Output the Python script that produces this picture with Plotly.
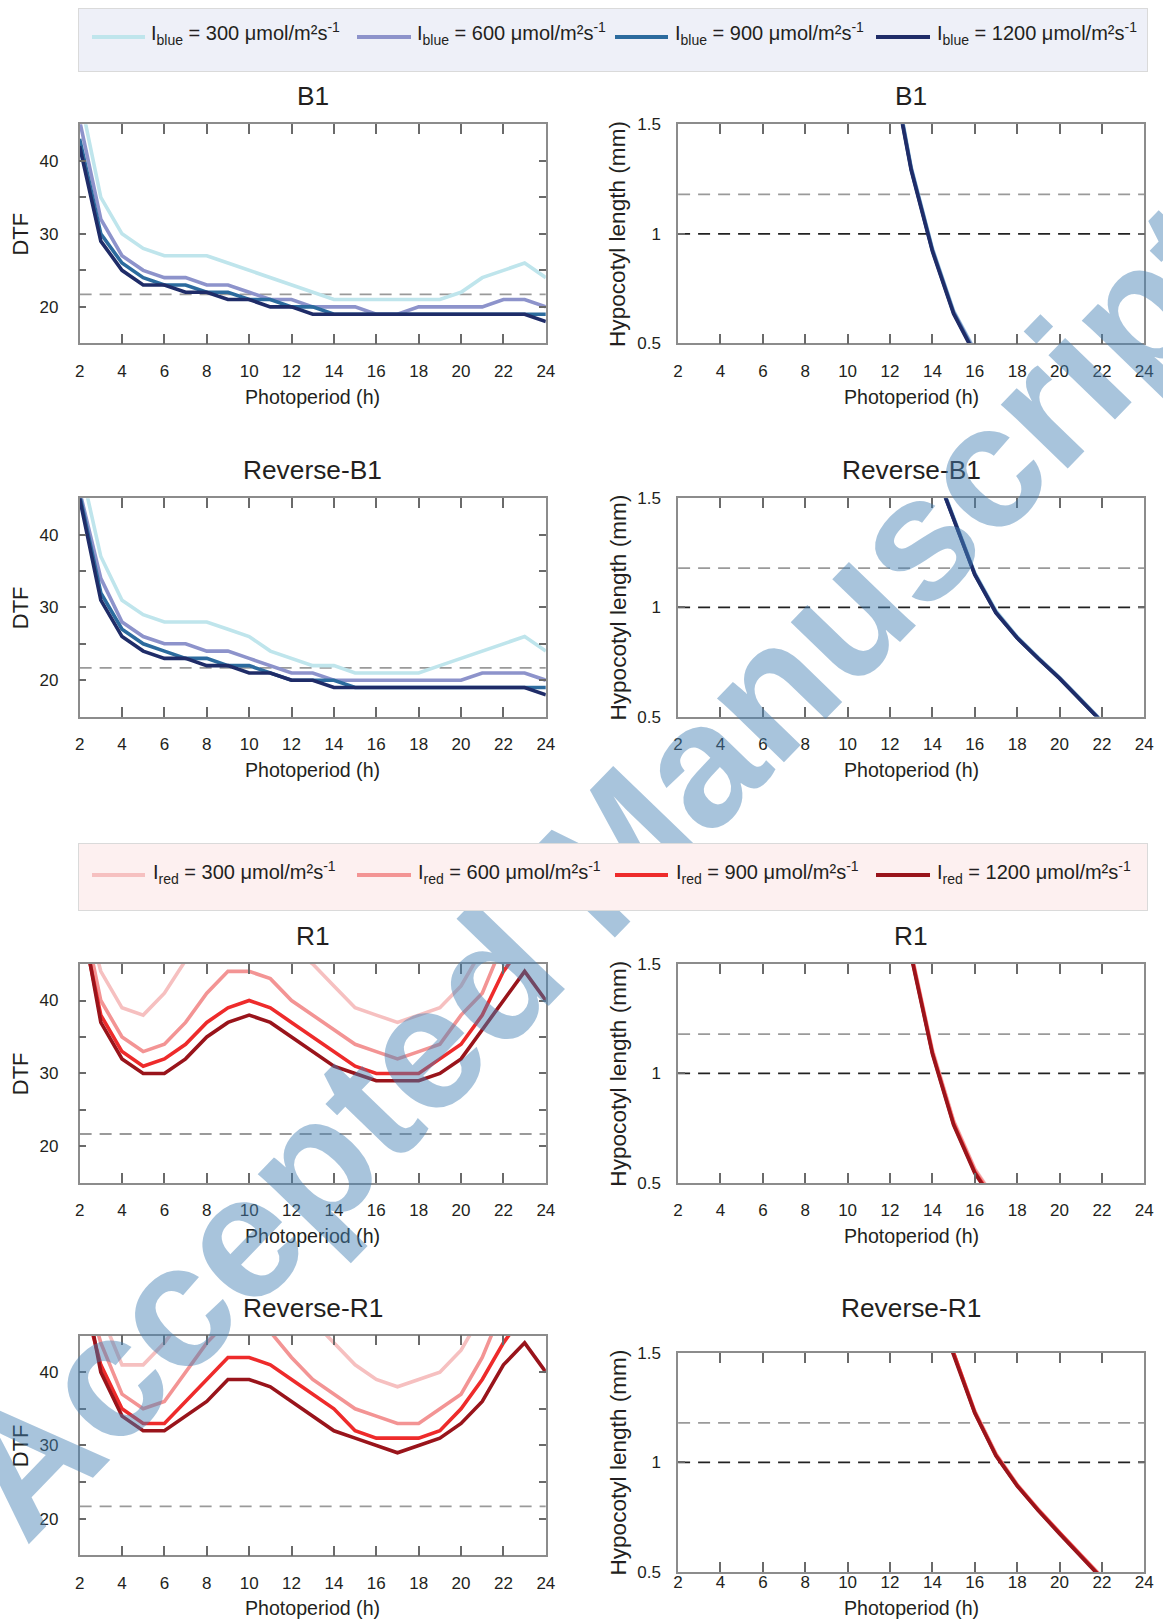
import plotly.graph_objects as go

# Positions below are given in pixels of the final 1163 x 1622 picture.
# The page shows the figure slightly reduced and offset, measured as
# picture = K * figure + C, so positions are converted back through that.
W, H = 1163, 1640
KX, CX = 0.989, 3.9
KY, CY = 0.989, 8.7

# ---------------- data ----------------
photoperiod = [2, 3, 4, 5, 6, 7, 8, 9, 10, 11, 12, 13, 14, 15, 16, 17, 18, 19, 20, 21, 22, 23, 24]

intensity_labels = ["300", "600", "900", "1200"]

# B1 DTF
b1_300 = [49, 35, 30, 28, 27, 27, 27, 26, 25, 24, 23, 22, 21, 21, 21, 21, 21, 21, 22, 24, 25, 26, 24]
b1_600 = [45.5, 32, 27, 25, 24, 24, 23, 23, 22, 21, 21, 20, 20, 20, 19, 19, 20, 20, 20, 20, 21, 21, 20]
b1_900 = [43, 30, 26, 24, 23, 23, 22, 22, 21, 21, 20, 20, 19, 19, 19, 19, 19, 19, 19, 19, 19, 19, 19]
b1_1200 = [42, 29, 25, 23, 23, 22, 22, 21, 21, 20, 20, 19, 19, 19, 19, 19, 19, 19, 19, 19, 19, 19, 18]

# Reverse-B1 DTF
rb1_300 = [50, 37, 31, 29, 28, 28, 28, 27, 26, 24, 23, 22, 22, 21, 21, 21, 21, 22, 23, 24, 25, 26, 24]
rb1_600 = [46, 34, 28, 26, 25, 25, 24, 24, 23, 22, 21, 21, 20, 20, 20, 20, 20, 20, 20, 21, 21, 21, 20]
rb1_900 = [45.5, 32, 27, 25, 24, 23, 23, 22, 22, 21, 20, 20, 20, 19, 19, 19, 19, 19, 19, 19, 19, 19, 19]
rb1_1200 = [45, 31, 26, 24, 23, 23, 22, 22, 21, 21, 20, 20, 19, 19, 19, 19, 19, 19, 19, 19, 19, 19, 18]

# R1 DTF
r1_300 = [55, 44, 39, 38, 41, 45.5, 48, 50, 50, 49, 47, 45, 42, 39, 38, 37, 38, 39, 42, 47, 52, 54, 52]
r1_600 = [54, 40, 35, 33, 34, 37, 41, 44, 44, 43, 40, 38, 36, 34, 33, 32, 33, 34, 38, 41, 48, 52, 50]
r1_900 = [52, 38, 33, 31, 32, 34, 37, 39, 40, 39, 37, 35, 33, 31, 30, 30, 30, 32, 34, 38, 44, 48, 46]
r1_1200 = [53, 37, 32, 30, 30, 32, 35, 37, 38, 37, 35, 33, 31, 30, 29, 29, 29, 30, 32, 36, 40, 44, 40]

# Reverse-R1 DTF
rr1_300 = [55, 48, 41, 41, 44, 48, 51, 53, 53, 52, 50, 47, 44, 41, 39, 38, 39, 40, 43, 48, 53, 55, 53]
rr1_600 = [54, 44, 37, 35, 36, 40, 44, 47, 47.5, 45.5, 42, 39, 37, 35, 34, 33, 33, 35, 37, 42, 49, 52, 50]
rr1_900 = [52, 41, 35, 33, 33, 36, 39, 42, 42, 41, 39, 37, 35, 32, 31, 31, 31, 32, 35, 39, 44, 48, 46]
rr1_1200 = [55, 40, 34, 32, 32, 34, 36, 39, 39, 38, 36, 34, 32, 31, 30, 29, 30, 31, 33, 36, 41, 44, 40]

# Hypocotyl length (mm)
hx_b1 = [12, 13, 14, 15, 16]
hb1_300 = [1.83, 1.305, 0.935, 0.65, 0.47]
hb1_600 = [1.82, 1.30, 0.93, 0.645, 0.465]
hb1_900 = [1.81, 1.295, 0.925, 0.64, 0.455]
hb1_1200 = [1.80, 1.29, 0.92, 0.635, 0.45]

hx_rb1 = [14, 15, 16, 17, 18, 19, 20, 21, 22]
hrb1_300 = [1.67, 1.41, 1.16, 0.985, 0.866, 0.77, 0.68, 0.58, 0.48]
hrb1_600 = [1.665, 1.405, 1.155, 0.98, 0.863, 0.768, 0.678, 0.578, 0.478]
hrb1_900 = [1.662, 1.402, 1.152, 0.977, 0.861, 0.766, 0.676, 0.576, 0.476]
hrb1_1200 = [1.66, 1.40, 1.15, 0.975, 0.86, 0.765, 0.675, 0.575, 0.475]

hx_r1 = [12, 13, 14, 15, 16, 17]
hr1_300 = [2.0, 1.56, 1.11, 0.785, 0.565, 0.42]
hr1_600 = [1.995, 1.55, 1.10, 0.78, 0.56, 0.415]
hr1_900 = [1.99, 1.54, 1.095, 0.77, 0.55, 0.405]
hr1_1200 = [1.98, 1.535, 1.09, 0.765, 0.545, 0.40]

hx_rr1 = [14, 15, 16, 17, 18, 19, 20, 21, 22]
hrr1_300 = [1.78, 1.50, 1.235, 1.04, 0.90, 0.787, 0.682, 0.582, 0.478]
hrr1_600 = [1.775, 1.497, 1.232, 1.037, 0.898, 0.785, 0.68, 0.58, 0.476]
hrr1_900 = [1.772, 1.494, 1.228, 1.033, 0.895, 0.782, 0.677, 0.577, 0.473]
hrr1_1200 = [1.77, 1.49, 1.225, 1.03, 0.893, 0.78, 0.675, 0.575, 0.47]

dtf_threshold = 21.7
hypo_thresholds = [1.18, 1.0]

dtf_ticks = [20, 30, 40]
dtf_minor_ticks = [25, 35]
hypo_ticks = [0.5, 1, 1.5]
hypo_ticktext = ["0.5", "1", "1.5"]
x_ticks = [2, 4, 6, 8, 10, 12, 14, 16, 18, 20, 22, 24]

panel_titles = ["B1", "B1", "Reverse-B1", "Reverse-B1", "R1", "R1", "Reverse-R1", "Reverse-R1"]

blue_colors = ["#bfe5ec", "#8d93cb", "#2c6b9e", "#1f2c68"]
red_colors = ["#f6c0c0", "#f39494", "#ee2b2b", "#99141b"]

# ---------------- layout geometry (picture pixels) ----------------
FONT = "Liberation Sans"
TXT = "#231f20"

def fx(x):
    return (x - CX) / KX / W

def fy(y):
    return 1 - (y - CY) / KY / H

col_x = [(78.6, 545.3), (677.7, 1144.4)]
panels = [
    # (col, top, bottom, kind, title_y, x ticklabel standoff)
    (0, 124.0, 343.3, "dtf", 96.2, 11),
    (1, 124.0, 343.3, "hypo", 96.2, 11),
    (0, 498.3, 716.7, "dtf", 469.8, 11),
    (1, 498.3, 716.7, "hypo", 469.8, 11),
    (0, 964.3, 1183.3, "dtf", 936.4, 11),
    (1, 964.3, 1183.3, "hypo", 936.4, 11),
    (0, 1336.0, 1556.0, "dtf", 1308.9, 11),
    (1, 1353.3, 1572.7, "hypo", 1308.9, -6),
]
xtitle_y = [397.3, 397.3, 769.8, 769.8, 1236.5, 1236.5, 1609.0, 1609.0]

dtf_series = [
    [b1_300, b1_600, b1_900, b1_1200],
    [rb1_300, rb1_600, rb1_900, rb1_1200],
    [r1_300, r1_600, r1_900, r1_1200],
    [rr1_300, rr1_600, rr1_900, rr1_1200],
]
hypo_series = [
    (hx_b1, [hb1_300, hb1_600, hb1_900, hb1_1200]),
    (hx_rb1, [hrb1_300, hrb1_600, hrb1_900, hrb1_1200]),
    (hx_r1, [hr1_300, hr1_600, hr1_900, hr1_1200]),
    (hx_rr1, [hrr1_300, hrr1_600, hrr1_900, hrr1_1200]),
]

fig = go.Figure()
layout = dict(
    width=W, height=H, margin=dict(l=0, r=0, t=0, b=0),
    paper_bgcolor="white", plot_bgcolor="white",
    showlegend=False, font=dict(family=FONT, color=TXT),
)
shapes = []
annotations = []

def label(text, x, y, size, angle=0, xanchor="center"):
    return dict(text=text, x=fx(x), y=fy(y), xref="paper", yref="paper",
                showarrow=False, textangle=angle, xanchor=xanchor, yanchor="middle",
                font=dict(family=FONT, size=size, color=TXT))

def box(x0, x1, y0, y1, fill, border=None, trim=0):
    # opaque rectangle drawn in the annotation layer (above the watermark)
    return dict(text=" ", x=fx((x0 + x1) / 2), y=fy((y0 + y1) / 2),
                xref="paper", yref="paper", showarrow=False,
                xanchor="center", yanchor="middle",
                width=(x1 - x0) / KX - trim, height=(y1 - y0) / KY,
                bgcolor=fill, borderpad=0,
                bordercolor=border if border else fill,
                borderwidth=1 if border else 0,
                font=dict(family=FONT, size=2, color=fill))

DASH = "12px,8px"
LW = 3.6

for i, (col, top, bot, kind, ty, standoff) in enumerate(panels):
    n = i + 1
    xa = "xaxis" if n == 1 else f"xaxis{n}"
    ya = "yaxis" if n == 1 else f"yaxis{n}"
    xref = "x" if n == 1 else f"x{n}"
    yref = "y" if n == 1 else f"y{n}"
    x0, x1 = col_x[col]
    row = i // 2
    colors = blue_colors if row < 2 else red_colors

    axis_common = dict(
        showline=True, linecolor="#8c8c8c", linewidth=1.5, mirror="ticks",
        ticks="inside", tickwidth=1.5, tickcolor="#6a6a6a",
        showgrid=False, zeroline=False,
        tickfont=dict(family=FONT, size=17, color=TXT),
    )
    layout[xa] = dict(
        axis_common, domain=[fx(x0), fx(x1)], anchor=yref, range=[2, 24],
        tickmode="array", tickvals=x_ticks, ticklen=10,
        ticklabelstandoff=standoff,
    )
    if kind == "dtf":
        layout[ya] = dict(
            axis_common, domain=[fy(bot), fy(top)], anchor=xref, range=[15, 45],
            tickmode="array", tickvals=dtf_ticks, ticklen=7,
            minor=dict(tickmode="array", tickvals=dtf_minor_ticks, ticks="inside",
                       ticklen=7, tickwidth=1.5, tickcolor="#6a6a6a"),
            ticklabelstandoff=16,
        )
        for s, c in zip(dtf_series[row], colors):
            fig.add_trace(go.Scatter(x=photoperiod, y=s, mode="lines",
                                     line=dict(color=c, width=LW),
                                     xaxis=xref, yaxis=yref))
        shapes.append(dict(type="line", xref=xref, yref=yref, x0=2, x1=24,
                           y0=dtf_threshold, y1=dtf_threshold, layer="below",
                           line=dict(color="#9a9a9a", width=1.8, dash=DASH)))
        annotations.append(label("DTF", 19.7, (top + bot) / 2, 22, angle=-90))
    else:
        layout[ya] = dict(
            axis_common, domain=[fy(bot), fy(top)], anchor=xref, range=[0.5, 1.5],
            tickmode="array", tickvals=hypo_ticks, ticktext=hypo_ticktext, ticklen=7,
            ticklabelstandoff=12,
        )
        hx, hs = hypo_series[row]
        for s, c in zip(hs, colors):
            fig.add_trace(go.Scatter(x=hx, y=s, mode="lines",
                                     line=dict(color=c, width=LW),
                                     xaxis=xref, yaxis=yref))
        for thr, lc in zip(hypo_thresholds, ["#9a9a9a", "#222222"]):
            shapes.append(dict(type="line", xref=xref, yref=yref, x0=2, x1=24,
                               y0=thr, y1=thr, layer="below",
                               line=dict(color=lc, width=1.8, dash=DASH)))
        annotations.append(label("Hypocotyl length (mm)", 617.7, (top + bot) / 2, 22.6, angle=-90))
    annotations.append(label(panel_titles[i], (x0 + x1) / 2, ty, 26.3))
    annotations.append(label("Photoperiod (h)", (x0 + x1) / 2, xtitle_y[i], 19.6))

# ---------------- watermark (legend boxes are drawn over it) ----------------
annotations.append(dict(text="<b>Accepted Manuscript</b>", x=fx(597), y=fy(869),
                        xref="paper", yref="paper", showarrow=False, textangle=-46,
                        xanchor="center", yanchor="middle",
                        font=dict(family=FONT, size=175, color="rgba(70,130,180,0.47)")))

# ---------------- legends (drawn boxes) ----------------
legend_specs = [
    ("blue", blue_colors, 5.2, 70.4, "#eef0f8", [148, 414, 673, 935]),
    ("red", red_colors, 844.3, 909.5, "#fdf0f0", [150, 415, 674, 935]),
]
line_x = [(90, 145), (355, 411), (614, 669), (875, 931)]
for name, colors, y0, y1, bg, tx in legend_specs:
    top_y = max(y0, CY + 0.8)
    annotations.append(box(78.6, 1146.5, top_y, y1, bg, border="#dadada", trim=12))
    yc = (y0 + y1) / 2 - 1.5
    for (lx0, lx1), c, t, lab in zip(line_x, colors, tx, intensity_labels):
        annotations.append(box(lx0, lx1, yc - 2, yc + 2, c, trim=3))
        annotations.append(label(f"I<sub>{name}</sub> = {lab} μmol/m²s<sup>-1</sup>",
                                 t, yc - 3, 20, xanchor="left"))

layout["shapes"] = shapes
layout["annotations"] = annotations
fig.update_layout(**layout)
fig.write_html("out.html")
